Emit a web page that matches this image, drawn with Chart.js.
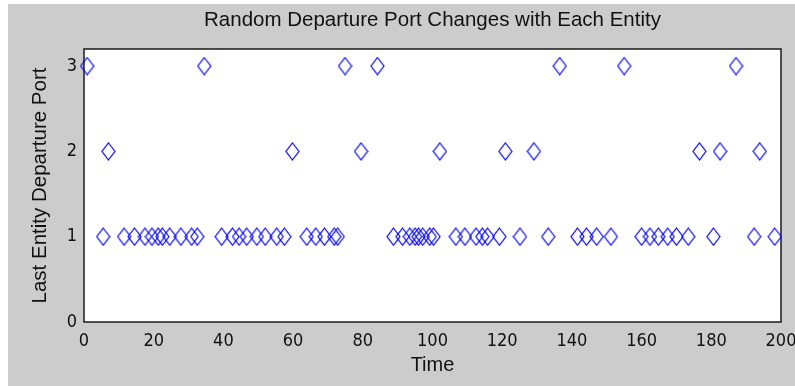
<!DOCTYPE html>
<html>
<head>
<meta charset="utf-8">
<script src="https://cdn.jsdelivr.net/npm/chart.js@4"></script>
<style>
  html, body { margin: 0; padding: 0; background: #ffffff; }
  #wrap { width: 795px; height: 386px; }
</style>
</head>
<body>
<div id="wrap"><canvas id="portChart" width="795" height="386"></canvas></div>
<script>
// values
const port1Times = [5.5, 11.5, 14.5, 17.5, 19.5, 21.3, 22.5, 24.6, 27.8, 30.9, 32.5,
    39.5, 42.6, 44.5, 46.7, 49.6, 52, 55.3, 57.5, 63.9, 66.5, 69, 71.8, 72.8,
    88.8, 91.4, 93.5, 95, 96, 97.2, 99.2, 100.3, 106.7, 109.3, 112.5, 114.3, 115.8, 119.2,
    125.1, 133.2, 141.6, 144.2, 147.1, 151.2, 160, 162.4, 164.8, 167.5, 170, 173.4,
    180.6, 192.3, 198.2];
const port2Times = [7, 59.8, 79.5, 102.1, 120.9, 129.1, 176.6, 182.5, 193.9];
const port3Times = [0.9, 34.5, 74.9, 84.2, 136.5, 155, 187.1];
const xTicks = [0, 20, 40, 60, 80, 100, 120, 140, 160, 180, 200];
const yTicks = [0, 1, 2, 3];

// one series, sorted by time
let points = [];
port1Times.forEach(t => points.push({ x: t, y: 1 }));
port2Times.forEach(t => points.push({ x: t, y: 2 }));
port3Times.forEach(t => points.push({ x: t, y: 3 }));
points.sort((a, b) => a.x - b.x);

// tall diamond marker like the original
const marker = document.createElement('canvas');
marker.width = 15;
marker.height = 19;
const mctx = marker.getContext('2d');
mctx.strokeStyle = '#0000ff';
mctx.lineWidth = 1.2;
mctx.beginPath();
mctx.moveTo(7.5, 1);
mctx.lineTo(14, 9.5);
mctx.lineTo(7.5, 18);
mctx.lineTo(1, 9.5);
mctx.closePath();
mctx.stroke();

const fontFam = '"Liberation Sans", Arial, sans-serif';
const tickFam = '"Liberation Sans Narrow", "DejaVu Sans Condensed", "Liberation Sans", sans-serif';

// grey figure background + white axes box
const figurePlugin = {
    id: 'figureBg',
    afterLayout(chart) {
        // title centred over the axes box, not the whole canvas
        if (chart.titleBlock) {
            chart.titleBlock.left = chart.chartArea.left;
            chart.titleBlock.right = chart.chartArea.right;
        }
    },
    beforeDraw(chart) {
        const ctx = chart.ctx;
        const a = chart.chartArea;
        ctx.save();
        ctx.fillStyle = '#ffffff';
        ctx.fillRect(0, 0, chart.width, chart.height);
        ctx.fillStyle = '#cccccc';
        ctx.fillRect(8, 4, chart.width - 8, chart.height - 4);
        ctx.fillStyle = '#ffffff';
        ctx.fillRect(a.left, a.top, a.right - a.left, a.bottom - a.top);
        ctx.restore();
    },
    beforeDatasetsDraw(chart) {
        const ctx = chart.ctx;
        const a = chart.chartArea;
        ctx.save();
        ctx.strokeStyle = '#1a1a1a';
        ctx.lineWidth = 1.5;
        ctx.strokeRect(a.left, a.top, a.right - a.left, a.bottom - a.top);
        ctx.restore();
    }
};

const config = {
    type: 'scatter',
    data: {
        datasets: [{
            label: 'Last Entity Departure Port',
            data: points,
            pointStyle: marker,
            pointRadius: 8,
            pointHoverRadius: 8,
            clip: false
        }]
    },
    options: {
        responsive: false,
        animation: false,
        layout: { padding: { left: 8, right: 14, top: 0, bottom: 0 } },
        plugins: {
            legend: { display: false },
            tooltip: { enabled: false },
            title: {
                display: true,
                text: 'Random Departure Port Changes with Each Entity',
                color: '#111111',
                font: { family: fontFam, size: 20.5, weight: 'normal' },
                padding: { top: 8, bottom: 16.4 }
            }
        },
        scales: {
            x: {
                type: 'linear',
                min: 0,
                max: 200,
                afterBuildTicks: s => { s.ticks = xTicks.map(v => ({ value: v })); },
                afterFit: s => { s.height = 64; s.paddingLeft = 0; s.paddingRight = 0; },
                grid: { display: false, drawTicks: false },
                border: { display: false },
                ticks: {
                    color: '#111111',
                    padding: 9,
                    maxRotation: 0,
                    font: { family: tickFam, size: 18 }
                },
                title: {
                    display: true,
                    text: 'Time',
                    color: '#111111',
                    font: { family: fontFam, size: 20 },
                    padding: { top: 9, bottom: 9 }
                }
            },
            y: {
                type: 'linear',
                min: 0,
                max: 3.2,
                afterBuildTicks: s => { s.ticks = yTicks.map(v => ({ value: v })); },
                afterFit: s => { s.width = 76; },
                grid: { display: false, drawTicks: false },
                border: { display: false },
                ticks: {
                    color: '#111111',
                    padding: 7,
                    font: { family: tickFam, size: 18 }
                },
                title: {
                    display: true,
                    text: 'Last Entity Departure Port',
                    color: '#111111',
                    font: { family: fontFam, size: 20.5 },
                    padding: { top: 20, bottom: 20 }
                }
            }
        }
    },
    plugins: [figurePlugin]
};

let myChart = document.querySelector('#portChart');
if (myChart) {
    new Chart(myChart, config);
} else {
    console.error('Canvas element not found');
}
</script>
</body>
</html>
